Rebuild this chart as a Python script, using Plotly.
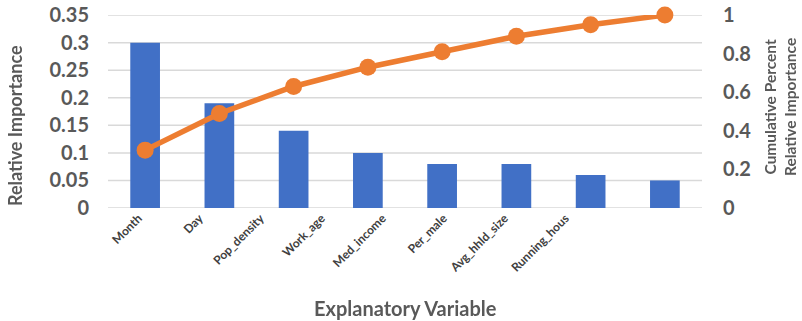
import plotly.graph_objects as go

# Relative importance of each explanatory variable and its running total
variables = ["Month", "Day", "Pop_density", "Work_age", "Med_income",
             "Per_male", "Avg_hhld_size", "Running_hous"]
importance = [0.30, 0.19, 0.14, 0.10, 0.08, 0.08, 0.06, 0.05]
cumulative = [0.30, 0.49, 0.63, 0.73, 0.81, 0.89, 0.95, 1.00]

left_ticks = [0, 0.05, 0.1, 0.15, 0.2, 0.25, 0.3, 0.35]
left_labels = ["0", "0.05", "0.1", "0.15", "0.2", "0.25", "0.3", "0.35"]
right_ticks = [0, 0.2, 0.4, 0.6, 0.8, 1.0]
right_labels = ["0", "0.2", "0.4", "0.6", "0.8", "1"]

FONT = "Lato"
GRAY = "#595959"
L, R, T, B = 108, 100, 15, 113
W, H = 802, 321
pw, ph = W - L - R, H - T - B
cat_range = [-0.5, len(variables) - 0.5]

fig = go.Figure()
fig.add_trace(go.Bar(
    x=variables, y=importance,
    marker=dict(color="#4170c6", line=dict(width=0)),
    xaxis="x", yaxis="y", showlegend=False,
))
fig.add_trace(go.Scatter(
    x=variables, y=cumulative, mode="lines+markers",
    line=dict(color="#ED7D31", width=5.5),
    marker=dict(color="#ED7D31", size=17),
    xaxis="x", yaxis="y2", showlegend=False, cliponaxis=False,
))
# category labels sit on their own, narrower axis beneath the bars
fig.add_trace(go.Scatter(
    x=variables, y=importance, mode="markers", opacity=0,
    xaxis="x2", yaxis="y3", showlegend=False, hoverinfo="skip",
))

# horizontal gridlines at each left-axis tick, behind the bars
for v in left_ticks:
    fig.add_shape(
        type="line", xref="paper", yref="y", x0=0, x1=1, y0=v, y1=v,
        line=dict(color="#d9d9d9", width=1.5), layer="below",
    )

fig.update_layout(
    width=W, height=H,
    margin=dict(l=L, r=R, t=T, b=B, autoexpand=False),
    paper_bgcolor="white", plot_bgcolor="rgba(0,0,0,0)",
    bargap=0.6,
    font=dict(family=FONT, color=GRAY),
    xaxis=dict(
        type="category", categoryorder="array", categoryarray=variables,
        range=cat_range, domain=[0, 1],
        showgrid=False, zeroline=False, showline=False, automargin=False,
        showticklabels=False, ticks="",
    ),
    xaxis2=dict(
        type="category", categoryorder="array", categoryarray=variables,
        range=cat_range, domain=[0, (596 - L) / pw],
        anchor="y3",
        tickangle=-45, showgrid=False, zeroline=False, showline=False,
        automargin=False, ticks="",
        tickfont=dict(family=FONT, size=12, color="#404040", weight="bold"),
    ),
    yaxis=dict(
        range=[0, 0.3502], tickvals=left_ticks, ticktext=left_labels,
        showgrid=False, zeroline=False, showline=False, ticks="",
        automargin=False, ticklabelstandoff=18,
        tickfont=dict(family=FONT, size=20, color=GRAY, weight="bold"),
    ),
    yaxis2=dict(
        range=[0, 0.3502 / 0.35], tickvals=right_ticks, ticktext=right_labels,
        overlaying="y", side="right", showgrid=False, zeroline=False,
        showline=False, ticks="", ticklabelstandoff=20, automargin=False,
        tickfont=dict(family=FONT, size=20, color=GRAY, weight="bold"),
    ),
    yaxis3=dict(
        domain=[0, 1], anchor="x2", range=[0, 0.3502], visible=False,
        showgrid=False, zeroline=False,
    ),
)


def px(x, y):
    return (x - L) / pw, (H - B - y) / ph


titles = [
    ("Relative Importance", 15, 126, -90, 18),
    ("Cumulative Percent<br>Relative Importance", 780, 107, -90, 15.5),
    ("Explanatory Variable", 405, 308, 0, 20),
]
for text, x, y, ang, size in titles:
    xp, yp = px(x, y)
    fig.add_annotation(
        text=text, x=xp, y=yp, xref="paper", yref="paper", showarrow=False,
        textangle=ang, xanchor="center", yanchor="middle",
        font=dict(family=FONT, size=size, color=GRAY, weight="bold"),
    )

fig.write_html("out.html")
